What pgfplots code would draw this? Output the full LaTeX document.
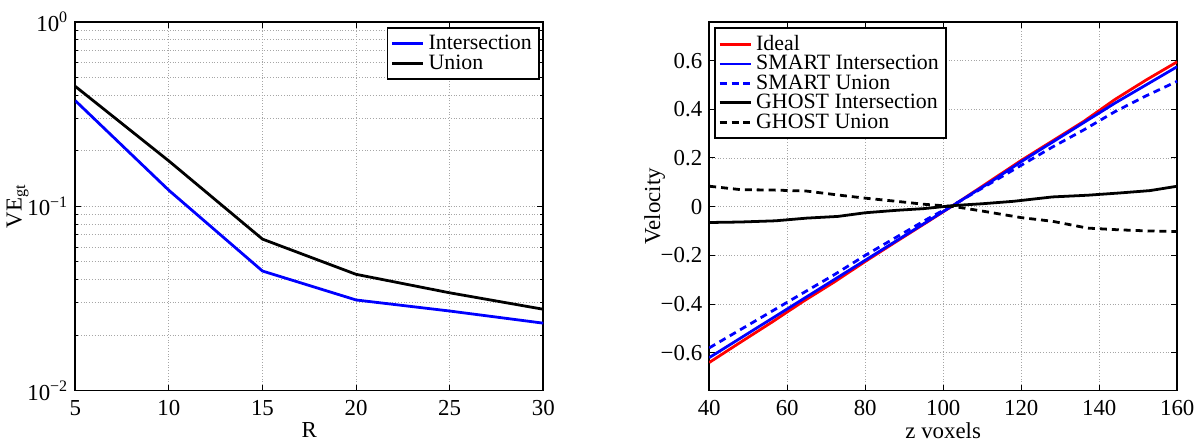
\documentclass[border=0pt]{standalone}
\usepackage{fontspec}
\setmainfont{Liberation Serif}
\usepackage{pgfplots}
\pgfplotsset{compat=1.18}
\begin{document}
\begin{tikzpicture}
\path (0,0) rectangle (600.5pt,216pt);
\pgfplotsset{
  every axis/.append style={
    scale only axis, width=235.5pt, height=185.5pt,
    anchor=south west, axis line style={line width=0.8pt},
    tick style={black, line width=0.5pt},
    major tick length=3pt, minor tick length=1.5pt,
    grid style={densely dotted, gray!70, line width=0.4pt},
    major grid style={densely dotted, gray!70},
    minor grid style={densely dotted, gray!70},
    tick label style={font=\fontsize{11.5}{13}\selectfont},
    xticklabel style={yshift=-1.5pt},
    label style={font=\fontsize{11.5}{13}\selectfont},
    /pgf/number format/assume math mode=true,
    legend style={font=\fontsize{11}{12}\selectfont, draw=black, line width=0.8pt, inner sep=1.5pt, row sep=-3pt, cells={anchor=west}},
    legend image code/.code={\draw[#1, line width=1.5pt] (0cm,0cm) -- (0.55cm,0cm);},
  }
}
\begin{axis}[
  at={(37pt,19.5pt)},
  ymode=log, xmin=5, xmax=30, ymin=0.01, ymax=1,
  xtick={5,10,15,20,25,30},
  ytick={0.01,0.1,1},
  yticklabels={10\textsuperscript{−2},10\textsuperscript{−1},10\textsuperscript{0}},
  grid=both,
  xlabel={R}, ylabel={VE\textsubscript{gt}},
  xlabel style={yshift=3.5pt}, ylabel style={yshift=-7.5pt},
  legend style={at={(0.992,0.985)}, anchor=north east},
]
\addplot[blue, line width=1.4pt] coordinates {(5,0.374) (10,0.122) (15,0.0445) (20,0.031) (25,0.027) (30,0.0232)};
\addlegendentry{Intersection}
\addplot[black, line width=1.4pt] coordinates {(5,0.447) (10,0.176) (15,0.0663) (20,0.0427) (25,0.0339) (30,0.0276)};
\addlegendentry{Union}
\end{axis}
\begin{axis}[
  at={(356pt,19.5pt)},
  xmin=40, xmax=160, ymin=-0.755, ymax=0.759,
  xtick={40,60,80,100,120,140,160},
  ytick={-0.6,-0.4,-0.2,0,0.2,0.4,0.6},
  yticklabels={−0.6,−0.4,−0.2,0,0.2,0.4,0.6},
  grid=major,
  xlabel={z voxels}, ylabel={Velocity},
  xlabel style={yshift=3.5pt}, ylabel style={yshift=-9pt},
  legend style={at={(0.011,0.985)}, anchor=north west},
]
\addplot[red, line width=1.4pt] coordinates {(40,-0.64) (48,-0.557) (56,-0.475) (64,-0.39) (72,-0.31) (80,-0.225) (88,-0.143) (96,-0.062) (104,0.02) (112,0.105) (120,0.19) (128,0.27) (136,0.35) (144,0.44) (152,0.52) (160,0.595)};
\addlegendentry{Ideal}
\addplot[blue, line width=1.4pt] coordinates {(40,-0.62) (48,-0.54) (56,-0.46) (64,-0.38) (72,-0.30) (80,-0.22) (88,-0.14) (96,-0.06) (104,0.02) (112,0.10) (120,0.185) (128,0.265) (136,0.345) (144,0.425) (152,0.50) (160,0.575)};
\addlegendentry{SMART Intersection}
\addplot[blue, line width=1.4pt, dash pattern=on 3.5pt off 2.5pt] coordinates {(40,-0.58) (48,-0.505) (56,-0.43) (64,-0.355) (72,-0.28) (80,-0.20) (88,-0.125) (96,-0.05) (104,0.02) (112,0.095) (120,0.17) (128,0.245) (136,0.315) (144,0.39) (152,0.455) (160,0.515)};
\addlegendentry{SMART Union}
\addplot[black, line width=1.4pt] coordinates {(40,-0.065) (48,-0.063) (57,-0.058) (65,-0.047) (73,-0.04) (80,-0.025) (88,-0.015) (95,-0.008) (103,0.005) (110,0.012) (118,0.022) (128,0.04) (137,0.047) (145,0.056) (153,0.066) (160,0.084)};
\addlegendentry{GHOST Intersection}
\addplot[black, line width=1.4pt, dash pattern=on 3.5pt off 2.5pt] coordinates {(40,0.084) (48,0.07) (57,0.068) (65,0.064) (73,0.048) (80,0.035) (88,0.022) (95,0.01) (103,0) (110,-0.018) (120,-0.045) (128,-0.06) (137,-0.088) (145,-0.095) (153,-0.1) (160,-0.102)};
\addlegendentry{GHOST Union}
\end{axis}
\end{tikzpicture}
\end{document}
